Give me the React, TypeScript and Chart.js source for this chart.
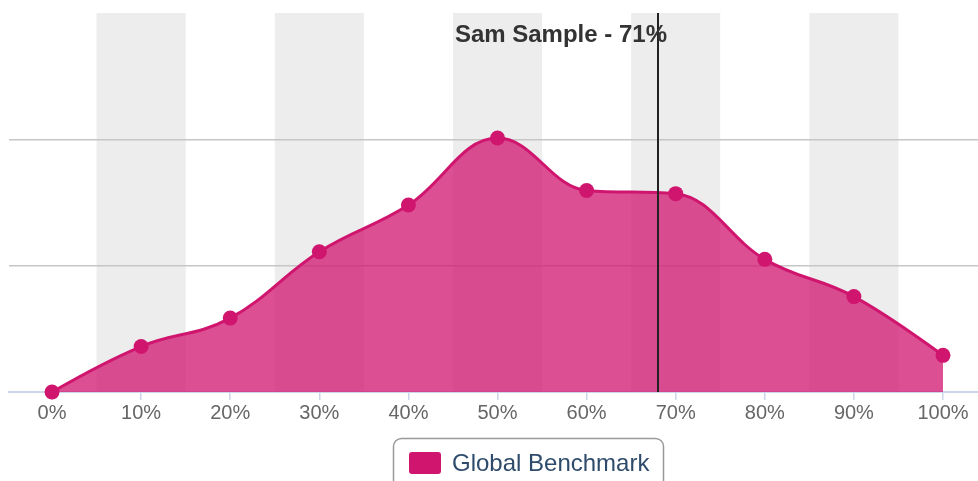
import React, { useEffect, useRef } from 'react';
import { Chart, registerables } from 'chart.js';

Chart.register(...registerables);

const categories = [0, 10, 20, 30, 40, 50, 60, 70, 80, 90, 100];
const tickLabels = ['0%', '10%', '20%', '30%', '40%', '50%', '60%', '70%', '80%', '90%', '100%'];
const benchmarkValues = [0, 3.6, 5.85, 11.1, 14.8, 20.1, 15.95, 15.7, 10.5, 7.55, 2.9];
const bandStarts = [5, 25, 45, 65, 85];
const bandEnds = [15, 35, 55, 75, 95];
const sampleMarker = [68];
const sampleLabel = 'Sam Sample - 71%';
const seriesName = 'Global Benchmark';

const FONT = '"Liberation Sans", Arial, sans-serif';
const LINE_COLOR = '#d0156f';

// Highcharts-style spline control points (smoothing 1.5) computed from scale pixels
function applySplineControls(points: any[]) {
  const n = points.length;
  const smoothing = 1.5;
  const denom = smoothing + 1;
  for (let i = 0; i < n; i++) {
    const p = points[i];
    p.cp1x = p.x; p.cp1y = p.y; p.cp2x = p.x; p.cp2y = p.y;
    if (i === 0 || i === n - 1) continue;
    const prev = points[i - 1];
    const next = points[i + 1];
    const x = p.x, y = p.y;
    const lcx = (smoothing * x + prev.x) / denom;
    let lcy = (smoothing * y + prev.y) / denom;
    const rcx = (smoothing * x + next.x) / denom;
    let rcy = (smoothing * y + next.y) / denom;
    if (rcx !== lcx) {
      const correction = ((rcy - lcy) * (rcx - x)) / (rcx - lcx) + y - rcy;
      lcy += correction;
      rcy += correction;
    }
    if (lcy > prev.y && lcy > y) {
      lcy = Math.max(prev.y, y);
      rcy = 2 * y - lcy;
    } else if (lcy < prev.y && lcy < y) {
      lcy = Math.min(prev.y, y);
      rcy = 2 * y - lcy;
    }
    if (rcy > next.y && rcy > y) {
      rcy = Math.max(next.y, y);
      lcy = 2 * y - rcy;
    } else if (rcy < next.y && rcy < y) {
      rcy = Math.min(next.y, y);
      lcy = 2 * y - rcy;
    }
    p.cp1x = lcx; p.cp1y = lcy; p.cp2x = rcx; p.cp2y = rcy;
  }
}

const splinePlugin = {
  id: 'hcSpline',
  afterDatasetsUpdate(chart: any) {
    const meta = chart.getDatasetMeta(0);
    if (!meta || !meta.dataset) return;
    applySplineControls(meta.data);
    meta.dataset._pointsUpdated = true;
  },
};

const decorPlugin = {
  id: 'decor',
  beforeDraw(chart: any) {
    const { ctx, chartArea, scales } = chart;
    const x = scales.x;
    ctx.save();
    ctx.fillStyle = '#ededed';
    bandStarts.forEach((a, i) => {
      const x1 = x.getPixelForValue(a);
      const x2 = x.getPixelForValue(bandEnds[i]);
      ctx.fillRect(x1, chartArea.top, x2 - x1, chartArea.bottom - chartArea.top);
    });
    ctx.restore();
  },
  afterDatasetsDraw(chart: any) {
    const { ctx, chartArea, scales } = chart;
    const px = Math.round(scales.x.getPixelForValue(sampleMarker[0]));
    ctx.save();
    ctx.strokeStyle = '#222222';
    ctx.lineWidth = 2;
    ctx.beginPath();
    ctx.moveTo(px, chartArea.top);
    ctx.lineTo(px, chartArea.bottom);
    ctx.stroke();
    ctx.fillStyle = '#333333';
    ctx.font = `bold 24px ${FONT}`;
    ctx.textAlign = 'right';
    ctx.textBaseline = 'alphabetic';
    ctx.fillText(sampleLabel, px + 9, 42);
    ctx.restore();
  },
  afterDraw(chart: any) {
    const { ctx } = chart;
    ctx.save();
    ctx.strokeStyle = '#999999';
    ctx.lineWidth = 1.5;
    ctx.beginPath();
    ctx.roundRect(393.5, 438.5, 270, 52, 8);
    ctx.stroke();
    ctx.fillStyle = LINE_COLOR;
    ctx.beginPath();
    ctx.roundRect(409, 452, 32, 22, 3);
    ctx.fill();
    ctx.fillStyle = '#2e4b6b';
    ctx.font = `24px ${FONT}`;
    ctx.textAlign = 'left';
    ctx.textBaseline = 'middle';
    ctx.fillText(seriesName, 452, 464);
    ctx.restore();
  },
};

export default function App() {
  const canvasRef = useRef<HTMLCanvasElement | null>(null);

  useEffect(() => {
    document.body.style.margin = '0';
    const canvas = canvasRef.current;
    if (!canvas) return;
    const chart = new Chart(canvas, {
      type: 'line',
      data: {
        datasets: [
          {
            label: seriesName,
            data: categories.map((c, i) => ({ x: c, y: benchmarkValues[i] })),
            borderColor: LINE_COLOR,
            backgroundColor: 'rgba(208,21,111,0.75)',
            borderWidth: 3,
            fill: 'origin',
            tension: 0.4,
            pointRadius: 7.5,
            pointHoverRadius: 7.5,
            pointBackgroundColor: LINE_COLOR,
            pointBorderColor: LINE_COLOR,
            pointBorderWidth: 0,
            clip: false as any,
          },
        ],
      },
      options: {
        animation: false,
        responsive: false,
        maintainAspectRatio: false,
        layout: { autoPadding: false, padding: { left: 9, top: 13, right: 0, bottom: 0 } },
        plugins: {
          legend: { display: false },
          tooltip: { enabled: false },
        },
        scales: {
          x: {
            type: 'linear',
            min: -4.83,
            max: 103.93,
            afterBuildTicks: (axis: any) => {
              axis.ticks = categories.map((v) => ({ value: v }));
            },
            afterFit: (axis: any) => {
              axis.height = 89;
              axis.paddingLeft = 0;
              axis.paddingRight = 0;
            },
            ticks: {
              callback: (_v: any, i: number) => tickLabels[i],
              color: '#666666',
              font: { family: FONT, size: 20 },
              padding: 1,
              maxRotation: 0,
              autoSkip: false,
            },
            grid: {
              drawOnChartArea: false,
              drawTicks: true,
              tickLength: 8,
              color: '#ccd6eb',
              lineWidth: 1.5,
            },
            border: { display: true, color: '#ccd6eb', width: 2 },
          },
          y: {
            min: 0,
            max: 30,
            ticks: { display: false, stepSize: 10 },
            afterFit: (axis: any) => {
              axis.width = 0;
              axis.paddingTop = 0;
              axis.paddingBottom = 0;
            },
            grid: {
              drawTicks: false,
              color: (ctx: any) =>
                ctx.tick && (ctx.tick.value === 10 || ctx.tick.value === 20) ? '#c6c6c6' : 'rgba(0,0,0,0)',
              lineWidth: 1.5,
            },
            border: { display: false },
          },
        },
      },
      plugins: [splinePlugin, decorPlugin],
    });
    return () => chart.destroy();
  }, []);

  return (
    <div style={{ position: 'fixed', left: 0, top: 0, width: 978, height: 481 }}>
      <canvas ref={canvasRef} width={978} height={481} style={{ width: 978, height: 481 }} />
    </div>
  );
}
